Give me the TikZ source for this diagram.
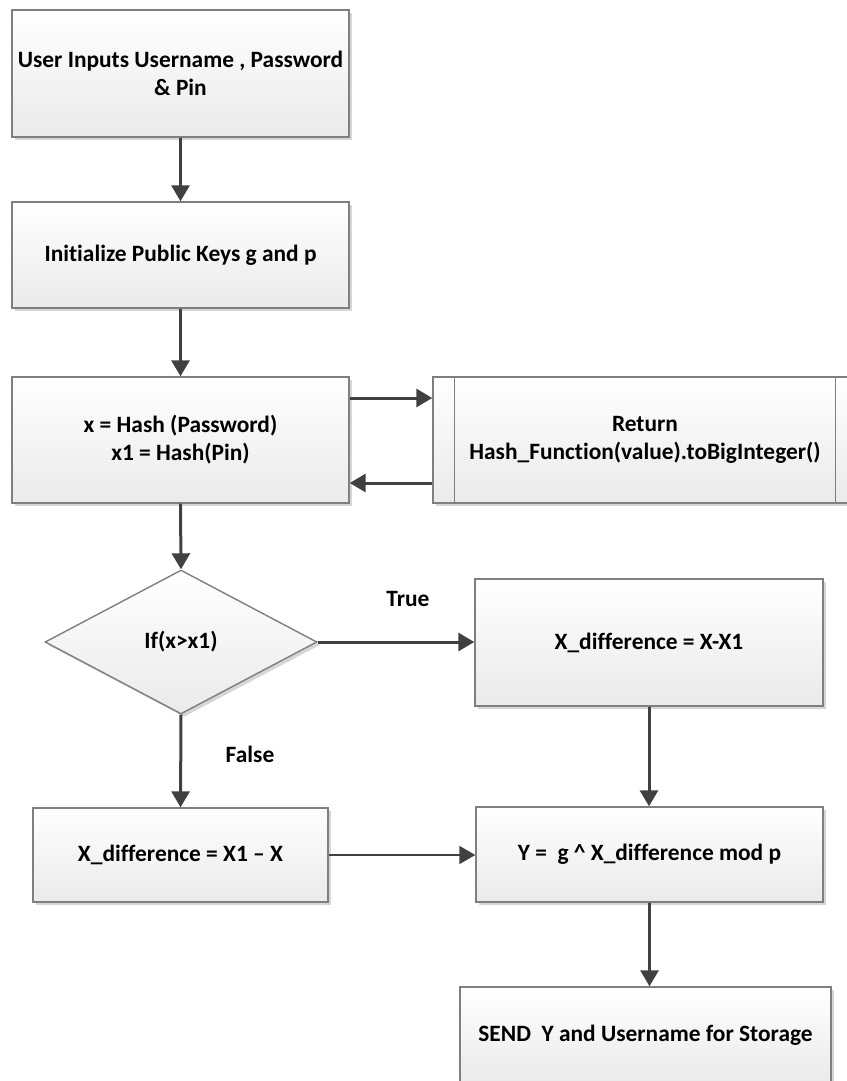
\documentclass[tikz,border=0pt]{standalone}
\usepackage{fontspec}
\setmainfont{Carlito}[Ligatures=NoCommon]
\usetikzlibrary{shapes.geometric,arrows.meta,shadows}
\definecolor{boxline}{HTML}{7F7F7F}
\definecolor{boxbottom}{HTML}{EAEAEA}
\definecolor{shadowgray}{HTML}{D6D6D6}
\definecolor{arrowgray}{HTML}{404040}

\begin{document}
\begin{tikzpicture}[x=0.5pt,y=-0.5pt,
  every node/.style={font=\bfseries\fontsize{11.7}{14}\selectfont,align=center,inner sep=0pt},
  procbox/.style={draw=boxline,line width=0.7pt,top color=white,bottom color=boxbottom,
    drop shadow={shadow xshift=1.5pt,shadow yshift=-1.5pt,fill=shadowgray,opacity=1}},
  decision/.style={procbox,diamond},
  flow/.style={draw=arrowgray,line width=1.5pt,-{Triangle[length=8pt,width=9pt]}},
  thinflow/.style={flow,line width=0.9pt}]
\useasboundingbox (0,0) rectangle (846,1081);
\node[procbox,minimum width=168.5pt,minimum height=63.5pt] (input) at (180.5,73.5) {User Inputs Username , Password\\\& Pin};
\node[procbox,minimum width=168.5pt,minimum height=53pt] (keys) at (180.5,255) {Initialize Public Keys g and p};
\node[procbox,minimum width=168.5pt,minimum height=63pt] (hash) at (180.5,440) {x = Hash (Password)\\x1 = Hash(Pin)};
\node[procbox,minimum width=212pt,minimum height=63pt] (ret) at (645,440) {Return\\Hash\_Function(value).toBigInteger()};
\draw[boxline,line width=0.7pt] ([xshift=11pt]ret.north west) -- ([xshift=11pt]ret.south west);
\draw[boxline,line width=0.7pt] ([xshift=-11pt]ret.north east) -- ([xshift=-11pt]ret.south east);
\node[decision,minimum width=136pt,minimum height=72pt] (cmp) at (181,642) {If(x>x1)};
\node[procbox,minimum width=174pt,minimum height=63.5pt] (diftrue) at (649,642.5) {X\_difference = X-X1};
\node[procbox,minimum width=147.5pt,minimum height=47pt] (diffalse) at (180.5,855) {X\_difference = X1 – X};
\node[procbox,minimum width=173.5pt,minimum height=47.5pt] (ycalc) at (649.5,854.5) {Y =\ \ g \textasciicircum\ X\_difference mod p};
\node[procbox,minimum width=185.5pt,minimum height=48.5pt] (send) at (645.5,1035.5) {SEND\ \ Y and Username for Storage};
\node (lbltrue) at (408,599) {True};
\node (lblfalse) at (250,754) {False};
\draw[flow] (input.south) -- (keys.north);
\draw[flow] (keys.south) -- (hash.north);
\draw[flow] ([yshift=21pt]hash.east) -- ([yshift=21pt]hash.east -| ret.west);
\draw[flow] ([yshift=-21.5pt]ret.west) -- ([yshift=-21.5pt]ret.west -| hash.east);
\draw[flow] (hash.south) -- (cmp.north);
\draw[flow] (cmp.east) -- (cmp.east -| diftrue.west);
\draw[flow] (cmp.south) -- (diffalse.north);
\draw[thinflow] (diffalse.east) -- (diffalse.east -| ycalc.west);
\draw[flow] (diftrue.south) -- (diftrue.south |- ycalc.north);
\draw[flow] (ycalc.south) -- (ycalc.south |- send.north);
\end{tikzpicture}
\end{document}
